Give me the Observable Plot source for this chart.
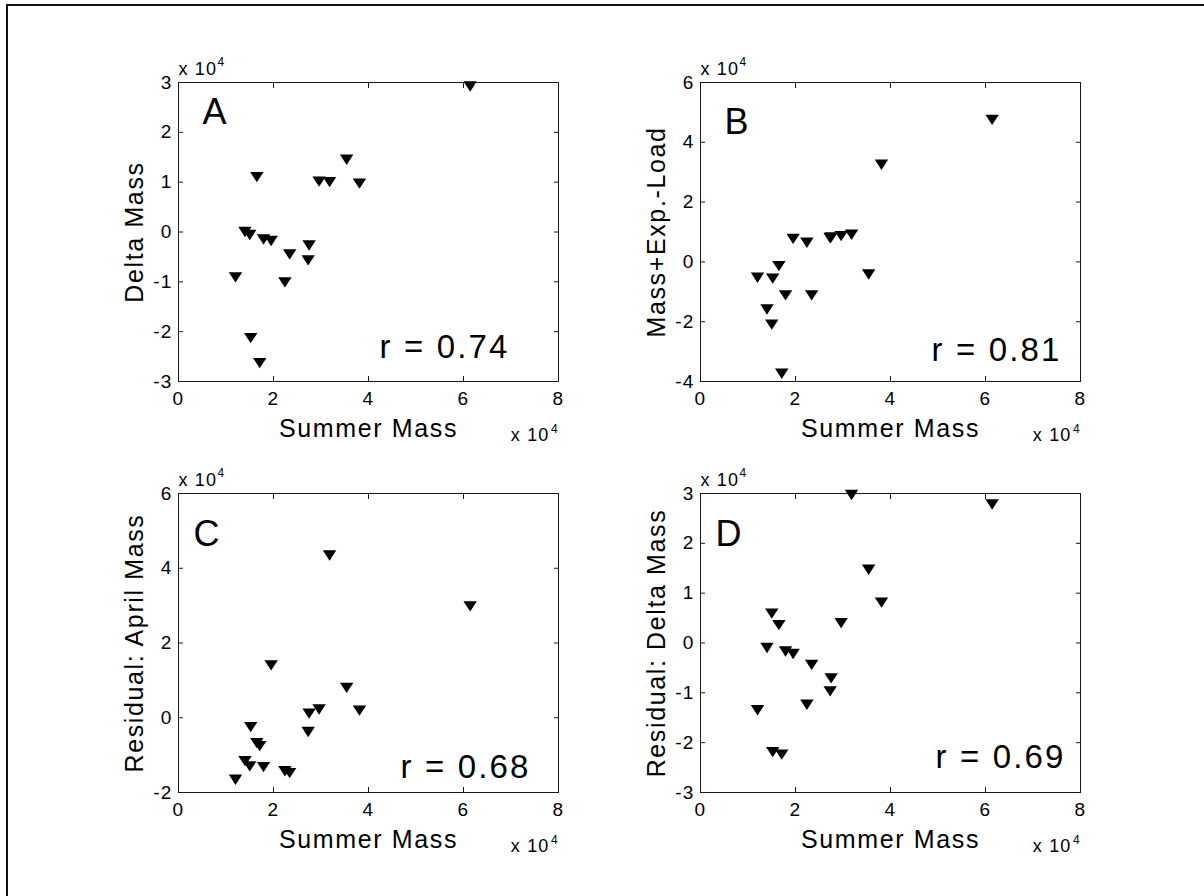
<!DOCTYPE html>
<html><head><meta charset="utf-8">
<script src="https://cdn.jsdelivr.net/npm/d3@7"></script>
<script src="https://cdn.jsdelivr.net/npm/@observablehq/plot@0.6"></script>
<style>
html,body{margin:0;padding:0;background:#fff;}
#fig{position:relative;width:1204px;height:896px;overflow:hidden;background:#fff;font-family:"Liberation Sans",Arial,sans-serif;}
#border{position:absolute;left:6px;top:4px;width:1400px;height:1100px;border-top:2px solid #111;border-left:2px solid #111;}
.panel{position:absolute;}
#fig text{letter-spacing:0.065em;}
</style></head><body><div id="fig"><div id="border"></div></div>
<script>
// ---- data (values in units of 10^4) ----
const summerMass    = [1.20, 1.40, 1.50, 1.52, 1.65, 1.71, 1.79, 1.95, 2.24, 2.34, 2.73, 2.75, 2.96, 3.18, 3.54, 3.81, 6.14];
const deltaMass     = [-0.91, 0.00, -0.06, -2.13, 1.10, -2.63, -0.15, -0.18, -1.01, -0.45, -0.57, -0.27, 1.01, 1.00, 1.45, 0.97, 2.92];
const massExpLoad   = [-0.53, -1.59, -2.10, -0.56, -0.14, -3.74, -1.12, 0.77, 0.64, -1.12, 0.79, 0.82, 0.86, 0.91, -0.42, 3.25, 4.75];
const residualApril = [-1.66, -1.16, -1.30, -0.25, -0.68, -0.76, -1.32, 1.40, -1.43, -1.48, -0.38, 0.11, 0.22, 4.34, 0.80, 0.19, 2.98];
const residualDelta = [-1.35, -0.10, 0.59, -2.19, 0.36, -2.24, -0.17, -0.22, -1.24, -0.44, -0.97, -0.71, 0.40, 2.97, 1.47, 0.81, 2.78];

const panelLetters = ["A", "B", "C", "D"];
const rLabels = ["r = 0.74", "r = 0.81", "r = 0.68", "r = 0.69"];
const yLabels = ["Delta Mass", "Mass+Exp.-Load", "Residual: April Mass", "Residual: Delta Mass"];
const xLabel = "Summer Mass";
const xTicks = [0, 2, 4, 6, 8];
const yTicksA = [-3, -2, -1, 0, 1, 2, 3];
const yTicksB = [-4, -2, 0, 2, 4, 6];
const yTicksC = [-2, 0, 2, 4, 6];
const yTicksD = [-3, -2, -1, 0, 1, 2, 3];
const xDomain = [0, 8];
const yDomainA = [-3, 3], yDomainB = [-4, 6], yDomainC = [-2, 6], yDomainD = [-3, 3];
const expBase = "x 10", expPow = "4";

// ---- layout ----
const ML = 90, MT = 50, MR = 40, MB = 75, FW = 380, FH = 299;
const panels = [
  {ys: deltaMass, dom: yDomainA, ticks: yTicksA, fx: 178, fy: 82, lDx: 24, lDy: 41, rDx: -49, rDy: -24},
  {ys: massExpLoad, dom: yDomainB, ticks: yTicksB, fx: 700, fy: 82, lDx: 24, lDy: 51, rDx: -19, rDy: -21},
  {ys: residualApril, dom: yDomainC, ticks: yTicksC, fx: 178, fy: 493, lDx: 15, lDy: 52, rDx: -28, rDy: -15},
  {ys: residualDelta, dom: yDomainD, ticks: yTicksD, fx: 700, fy: 493, lDx: 15, lDy: 52, rDx: -15, rDy: -25}
];

const triDown = {
  draw(ctx, size) {
    const s = Math.sqrt(size / Math.PI);
    const hw = 1.4 * s, hh = 1.08 * s;
    ctx.moveTo(-hw, -hh); ctx.lineTo(hw, -hh); ctx.lineTo(0, hh); ctx.closePath();
  }
};

const fig = document.getElementById("fig");
const ink = "#1a1a1a";
const fmt = d => String(d);

panels.forEach((p, k) => {
  const data = summerMass.map((x, i) => ({sm: x, v: p.ys[i]}));
  const chart = Plot.plot({
    width: ML + FW + MR, height: MT + FH + MB,
    marginLeft: ML, marginTop: MT, marginRight: MR, marginBottom: MB,
    style: {background: "transparent", fontFamily: '"Liberation Sans", Arial, sans-serif', overflow: "visible", color: "#000"},
    x: {domain: xDomain},
    y: {domain: p.dom},
    marks: [
      Plot.axisX(xTicks, {anchor: "bottom", tickSize: 0, tickPadding: 10, tickFormat: fmt, fontSize: 19, label: null}),
      Plot.axisY(p.ticks, {anchor: "left", tickSize: 0, tickPadding: 6, tickFormat: fmt, fontSize: 19, label: null}),
      Plot.axisX(xTicks, {anchor: "bottom", tickSize: -5, tickFormat: () => "", label: null, stroke: ink}),
      Plot.axisX(xTicks, {anchor: "top", tickSize: -5, tickFormat: () => "", label: null, stroke: ink}),
      Plot.axisY(p.ticks, {anchor: "left", tickSize: -5, tickFormat: () => "", label: null, stroke: ink}),
      Plot.axisY(p.ticks, {anchor: "right", tickSize: -5, tickFormat: () => "", label: null, stroke: ink}),
      Plot.frame({stroke: ink, strokeWidth: 1}),
      Plot.dot(data, {x: "sm", y: "v", symbol: triDown, r: 4.8, fill: "#000", stroke: "none"}),
      Plot.text([panelLetters[k]], {frameAnchor: "top-left", text: d => d, textAnchor: "start", lineAnchor: "bottom", dx: p.lDx, dy: p.lDy, fontSize: 36, fill: "#000"}),
      Plot.text([rLabels[k]], {frameAnchor: "bottom-right", text: d => d, textAnchor: "end", lineAnchor: "bottom", dx: p.rDx, dy: p.rDy, fontSize: 33, fill: "#000"}),
      Plot.text([xLabel], {frameAnchor: "bottom", text: d => d, textAnchor: "middle", lineAnchor: "bottom", dy: 55, fontSize: 25, fill: "#000"}),
      Plot.text([yLabels[k]], {frameAnchor: "left", text: d => d, textAnchor: "middle", lineAnchor: "middle", rotate: -90, dx: -44, fontSize: 25, fill: "#000"}),
      Plot.text([expBase], {frameAnchor: "bottom-right", text: d => d, textAnchor: "end", lineAnchor: "bottom", dx: -9, dy: 59, fontSize: 18, fill: "#000"}),
      Plot.text([expPow], {frameAnchor: "bottom-right", text: d => d, textAnchor: "end", lineAnchor: "bottom", dx: 0, dy: 51, fontSize: 12, fill: "#000"}),
      Plot.text([expBase], {frameAnchor: "top-left", text: d => d, textAnchor: "start", lineAnchor: "bottom", dx: 0, dy: -8, fontSize: 18, fill: "#000"}),
      Plot.text([expPow], {frameAnchor: "top-left", text: d => d, textAnchor: "start", lineAnchor: "bottom", dx: 39, dy: -17, fontSize: 12, fill: "#000"})
    ]
  });
  const holder = document.createElement("div");
  holder.className = "panel";
  holder.style.left = (p.fx - ML) + "px";
  holder.style.top = (p.fy - MT) + "px";
  holder.appendChild(chart);
  fig.appendChild(holder);
});
</script>
</body></html>
